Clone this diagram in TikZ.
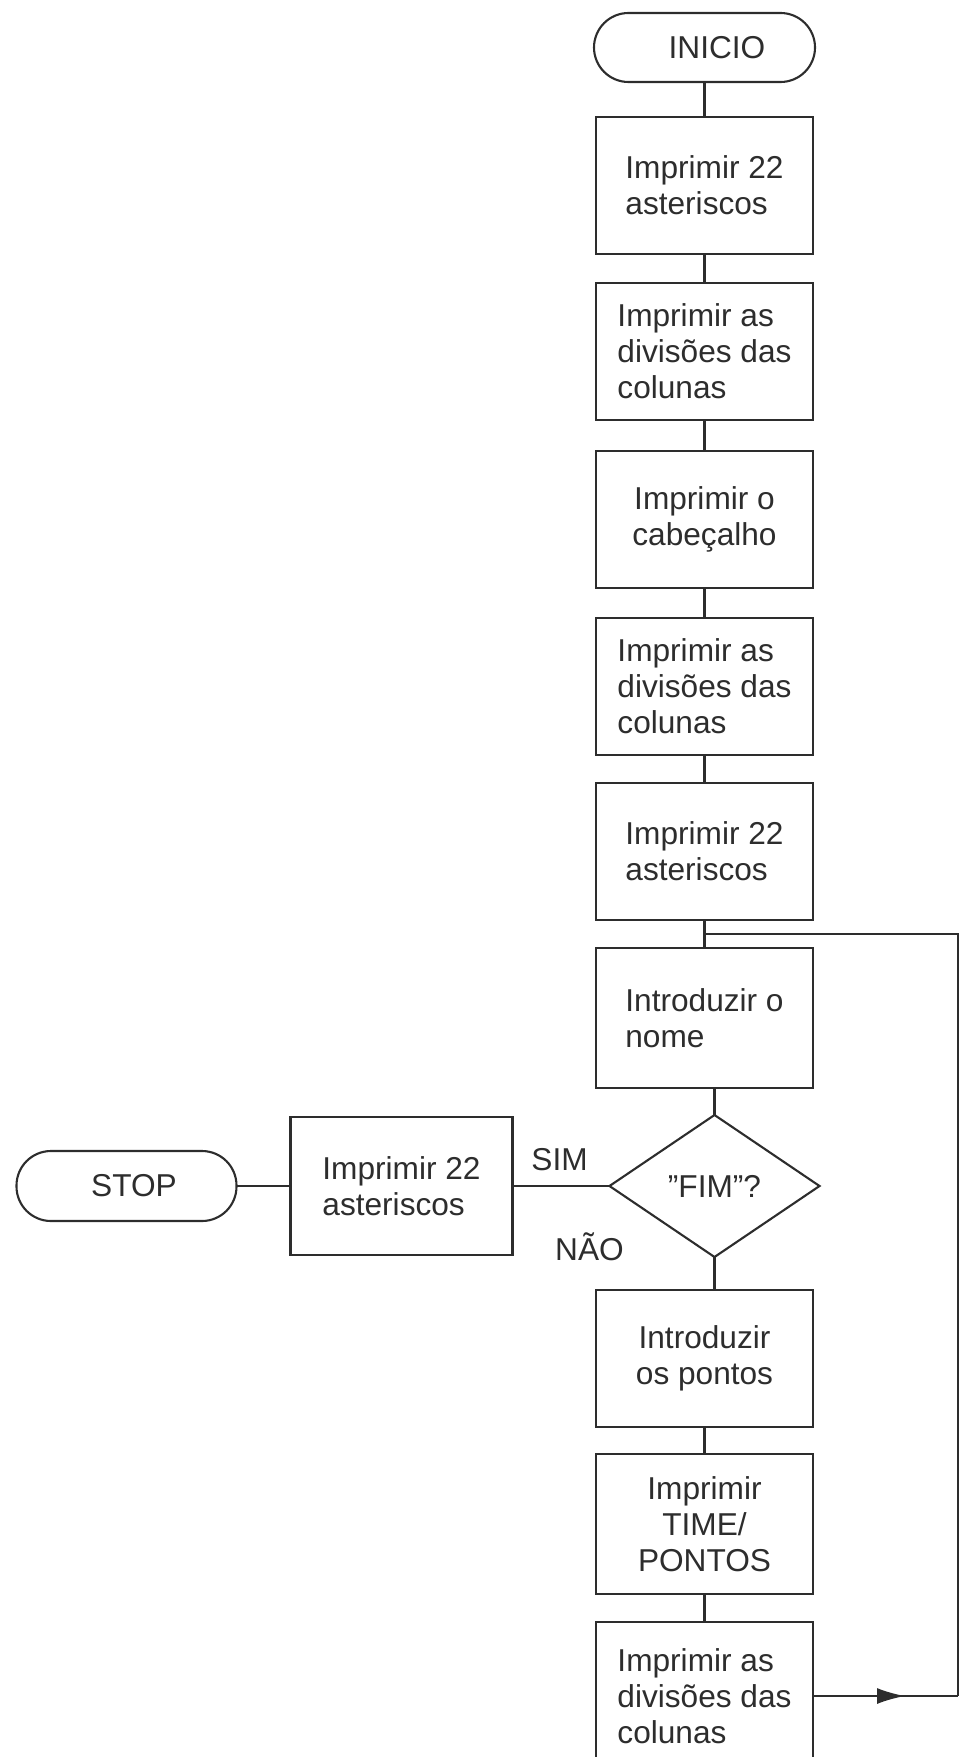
\documentclass[tikz,border=0pt]{standalone}
\usepackage{fontspec}
\setmainfont{Liberation Sans}
\usetikzlibrary{shapes,arrows.meta,positioning,calc,decorations.markings}
\definecolor{inkgray}{RGB}{45,45,45}

\begin{document}
\begin{tikzpicture}[
    node distance=0.58cm,
    font=\fontsize{18}{20.5}\selectfont,
    box/.style={rectangle, draw=inkgray, line width=1.2pt, text=inkgray, minimum width=4.34cm, minimum height=2.74cm, align=left, inner sep=4pt, outer sep=0pt},
    term/.style={rectangle, rounded corners=0.69cm, draw=inkgray, line width=1.2pt, text=inkgray, minimum width=4.42cm, minimum height=1.38cm, outer sep=0pt},
    decision/.style={diamond, draw=inkgray, line width=1.2pt, text=inkgray, minimum width=4.2cm, minimum height=2.84cm, inner sep=0pt, outer sep=0pt},
    lbl/.style={text=inkgray, inner sep=2pt},
    line/.style={draw=inkgray, line width=1.2pt},
    midarrow/.style={line, postaction={decorate}, decoration={markings, mark=at position 1.84cm with {\arrow[inkgray]{Latex[length=0.56cm,width=0.32cm]}}}}
]
    \useasboundingbox (0,0) rectangle (19.32,-35.14);

    % Main column
    \node[term] (inicio) at (14.09,-0.95) {\hspace*{0.5cm}INICIO};
    \node[box, below=0.70cm of inicio] (ast1) {Imprimir 22\\asteriscos};
    \node[box, below=of ast1] (div1) {Imprimir as\\divisões das\\colunas};
    \node[box, below=0.62cm of div1, align=center] (cab) {Imprimir o\\cabeçalho};
    \node[box, below=0.60cm of cab] (div2) {Imprimir as\\divisões das\\colunas};
    \node[box, below=0.56cm of div2] (ast2) {Imprimir 22\\asteriscos};
    \node[box, below=0.56cm of ast2, minimum height=2.8cm] (nome) {Introduzir o\\nome};

    % Decision
    \node[decision, below=0.54cm of nome, xshift=0.2cm] (fim) {''FIM''?};
    \node[lbl, above left=0.22cm and 0.36cm of fim.west] (sim) {SIM};
    \node[lbl, below=0.86cm of fim.west, xshift=-0.4cm] (nao) {NÃO};

    % Exit branch
    \node[box, left=1.94cm of fim, minimum width=4.44cm, minimum height=2.76cm] (ast3) {Imprimir 22\\asteriscos};
    \node[term, left=1.08cm of ast3, minimum width=4.4cm, minimum height=1.4cm] (stop) {\hspace*{0.3cm}STOP};

    % Loop body
    \node[box, below=0.66cm of fim, xshift=-0.2cm, align=center] (pontos) {Introduzir\\os pontos};
    \node[box, below=0.54cm of pontos, minimum height=2.8cm, align=center] (time) {Imprimir\\TIME/\\PONTOS};
    \node[box, below=0.56cm of time, minimum height=2.96cm] (div3) {Imprimir as\\divisões das\\colunas};

    % Edges
    \foreach \a/\b in {inicio/ast1, ast1/div1, div1/cab, cab/div2, div2/ast2, ast2/nome, pontos/time, time/div3, fim/ast3, ast3/stop}
        \draw[line] (\a) -- (\b);
    \draw[line] (fim.north |- nome.south) -- (fim.north);
    \draw[line] (fim.south) -- (fim.south |- pontos.north);

    % Back to the loop start
    \coordinate (loopjoin) at ($(ast2.south)!0.5!(nome.north)$);
    \coordinate[right=2.9cm of div3.east] (loopturn);
    \draw[midarrow] (div3.east) -- (loopturn);
    \draw[line] (loopturn) |- (loopjoin);
\end{tikzpicture}
\end{document}
